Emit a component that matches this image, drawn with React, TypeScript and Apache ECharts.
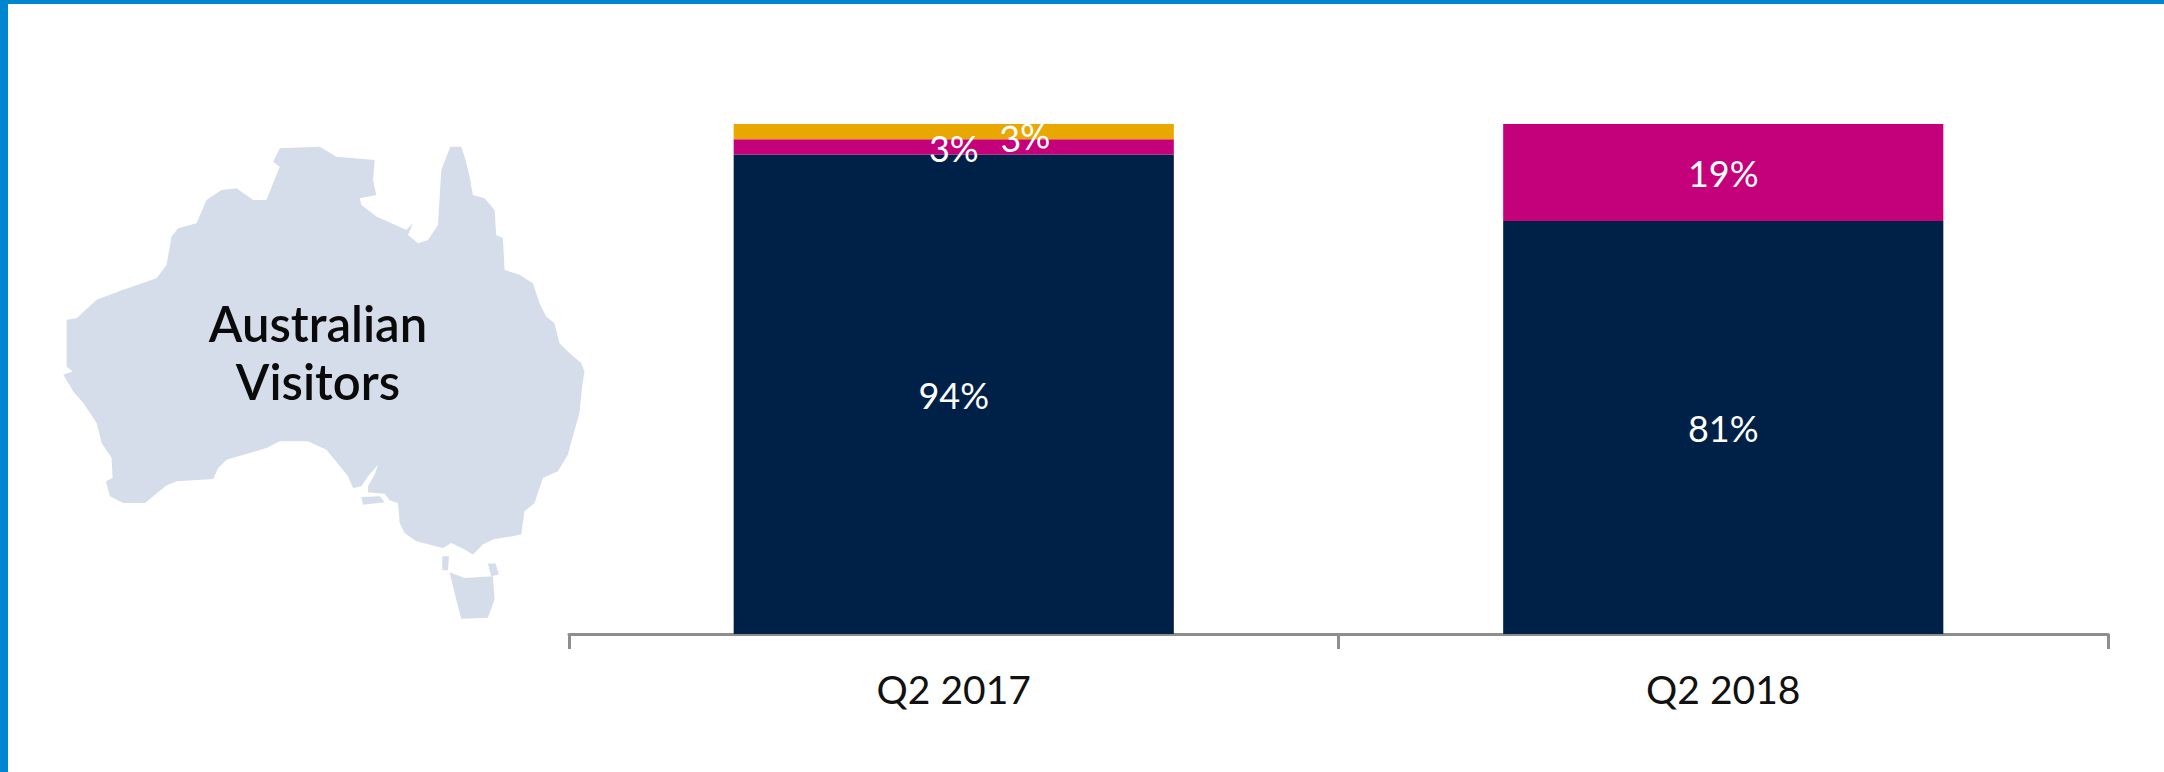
import React, { useEffect, useRef } from "react";
import * as echarts from "echarts";

const categories = ["Q2 2017", "Q2 2018"];
const navyValues = [94, 81];
const magentaValues = [3, 19];
const amberValues = [3, null];
const mapLabelLines = ["Australian", "Visitors"];

const WIDTH = 2164;
const HEIGHT = 772;
const FONT = "Lato, 'Open Sans', sans-serif";

// Silhouettes of the mainland, Kangaroo Island, Tasmania and the Bass Strait islands.
const AUSTRALIA_OUTLINE =
  "M1172 20L1205 20L1218 60L1230 110L1240 165L1275 175L1305 210L1310 285L1330 295L1335 390L1380 405L1420 430L1440 490L1460 530L1485 550L1500 610L1530 640L1565 670L1575 695L1568 740L1560 820L1540 890L1525 945L1495 995L1450 1015L1425 1090L1395 1115L1385 1185L1300 1200L1270 1215L1240 1245L1215 1230L1175 1210L1150 1225L1070 1205L1035 1180L1020 1150L1015 1090L990 1082L975 1062L925 1058L925 1040L945 1005L955 975L925 1010L905 1040L880 1045L865 1010L825 960L800 930L745 905L660 905L620 925L570 940L500 960L475 985L460 1018L350 1025L318 1038L280 1070L255 1090L190 1090L150 1070L138 1025L158 1015L155 955L125 910L110 850L70 790L40 755L10 705L38 695L20 680L20 540L50 535L110 480L190 450L290 415L320 375L335 290L355 265L410 250L440 180L485 150L530 145L580 180L620 180L660 80L640 65L660 25L780 20L830 50L945 60L940 120L950 165L900 175L905 195L950 230L1040 270L1060 250L1045 285L1075 310L1105 300L1135 255L1145 90Z" +
  "M905 1072L960 1070L975 1088L910 1095Z" +
  "M1170 1298L1215 1315L1300 1310L1305 1380L1285 1435L1205 1438L1185 1360Z" +
  "M1148 1250L1168 1250L1165 1292L1148 1292Z" +
  "M1285 1272L1308 1272L1318 1305L1295 1310Z";

echarts.graphic.registerShape("australia", echarts.graphic.extendPath(AUSTRALIA_OUTLINE, {}) as any);

const whiteLabel = {
  show: true,
  color: "#ffffff",
  fontFamily: FONT,
  fontSize: 36,
  formatter: "{c}%",
  offset: [0, 1],
};

export default function App() {
  const ref = useRef<HTMLDivElement>(null);

  useEffect(() => {
    document.body.style.margin = "0";
    const chart = echarts.init(ref.current!, null, { renderer: "svg" });
    chart.setOption({
      animation: false,
      backgroundColor: "#ffffff",
      grid: { left: 569, right: WIDTH - 2108, top: 124, bottom: HEIGHT - 634 },
      xAxis: {
        type: "category",
        data: categories,
        axisLine: { lineStyle: { color: "#8e8e8e", width: 3 } },
        axisTick: { show: true, length: 15, lineStyle: { color: "#8e8e8e", width: 3 } },
        axisLabel: { color: "#111111", fontFamily: FONT, fontSize: 39, margin: 35 },
      },
      yAxis: { type: "value", min: 0, max: 100, show: false },
      series: [
        {
          type: "bar",
          stack: "share",
          barWidth: "57.2%",
          data: navyValues,
          itemStyle: { color: "#002147" },
          label: whiteLabel,
        },
        {
          type: "bar",
          stack: "share",
          data: magentaValues,
          itemStyle: { color: "#C4007A" },
          label: whiteLabel,
        },
        {
          type: "bar",
          stack: "share",
          data: amberValues,
          itemStyle: { color: "#E8A800" },
          label: { ...whiteLabel, offset: [70, 12], rotate: 6 },
        },
      ],
      graphic: [
        { type: "rect", shape: { x: 0, y: 0, width: WIDTH, height: 4 }, style: { fill: "#0085CF" } },
        { type: "rect", shape: { x: 0, y: 0, width: 8, height: HEIGHT }, style: { fill: "#0085CF" } },
        {
          type: "australia",
          x: 60,
          y: 140,
          scaleX: 1 / 3,
          scaleY: 1 / 3,
          style: { fill: "#D5DCEA" },
        },
        ...mapLabelLines.map((line, i) => ({
          type: "text",
          x: 318,
          y: 323 + i * 58,
          style: {
            text: line,
            fill: "#0a0a0a",
            font: `600 49px ${FONT}`,
            align: "center",
            verticalAlign: "middle",
          },
        })),
      ],
    });
    return () => chart.dispose();
  }, []);

  return (
    <div
      ref={ref}
      style={{ position: "absolute", left: 0, top: 0, width: WIDTH, height: HEIGHT }}
    />
  );
}
